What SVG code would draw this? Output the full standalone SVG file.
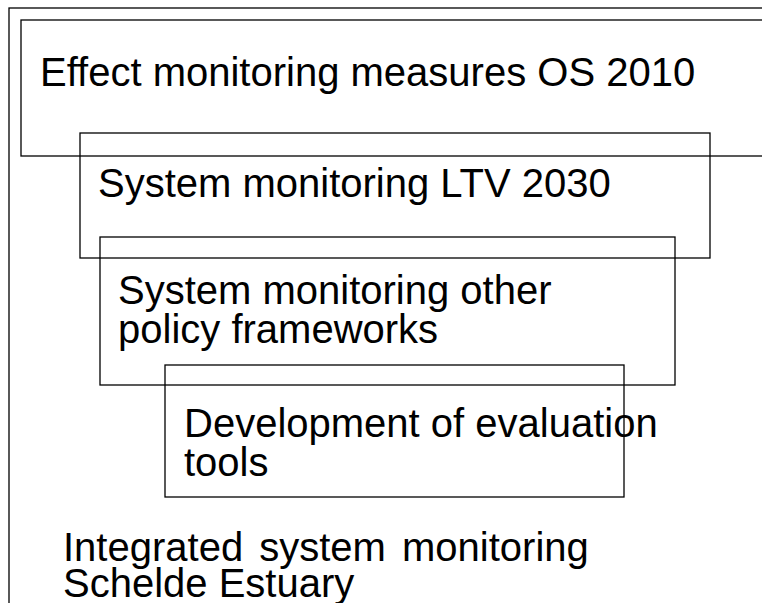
<svg xmlns="http://www.w3.org/2000/svg" width="762" height="603" viewBox="0 0 762 603">
<style>
.box{fill:none;stroke:#000;stroke-width:1.3}
.t{font-family:"Liberation Sans",Arial,sans-serif;font-size:40px;fill:#000}
</style>
<rect width="762" height="603" fill="#fff"/>
<g id="outer"><rect class="box" x="9" y="8" width="800" height="700"/>
<text class="t" x="63" y="561" word-spacing="5">Integrated system monitoring</text>
<text class="t" x="63" y="597">Schelde Estuary</text></g>
<g id="effect"><rect class="box" x="21" y="20" width="800" height="136"/>
<text class="t" x="40" y="86">Effect monitoring measures OS 2010</text></g>
<g id="ltv"><rect class="box" x="80" y="133" width="630" height="125"/>
<text class="t" x="98" y="197">System monitoring LTV 2030</text></g>
<g id="other"><rect class="box" x="100" y="237" width="575" height="148"/>
<text class="t" x="118" y="304">System monitoring other</text>
<text class="t" x="118" y="343">policy frameworks</text></g>
<g id="tools"><rect class="box" x="165" y="365" width="459" height="132"/>
<text class="t" x="184" y="437">Development of evaluation</text>
<text class="t" x="184" y="476">tools</text></g>
<g id="connectors"/>
</svg>
